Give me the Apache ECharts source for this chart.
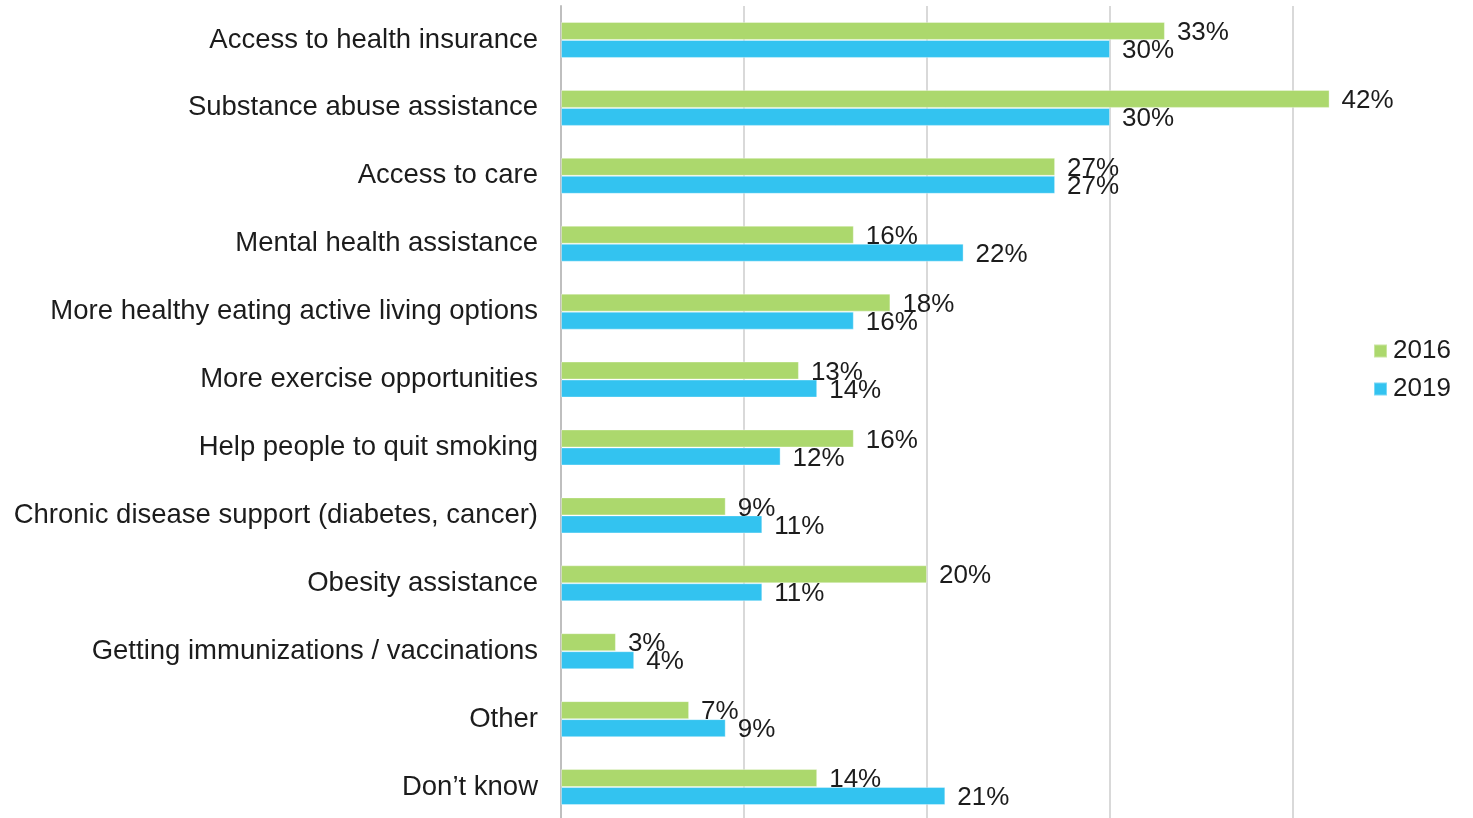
<!DOCTYPE html>
<html>
<head>
<meta charset="utf-8">
<script src="https://cdn.jsdelivr.net/npm/echarts@6/dist/echarts.min.js"></script>
<style>
  html, body { margin: 0; padding: 0; background: #ffffff; }
  #chart { width: 1473px; height: 818px; }
</style>
</head>
<body>
<div id="chart"></div>
<script>
// Survey answers, listed top to bottom
const categories = [
  'Access to health insurance',
  'Substance abuse assistance',
  'Access to care',
  'Mental health assistance',
  'More healthy eating active living options',
  'More exercise opportunities',
  'Help people to quit smoking',
  'Chronic disease support (diabetes, cancer)',
  'Obesity assistance',
  'Getting immunizations / vaccinations',
  'Other',
  'Don\u2019t know'
];

// Share of respondents (%) per year
const values2016 = [33, 42, 27, 16, 18, 13, 16, 9, 20, 3, 7, 14];
const values2019 = [30, 30, 27, 22, 16, 14, 12, 11, 11, 4, 9, 21];

const seriesNames = ['2016', '2019'];
const xTicks = [0, 10, 20, 30, 40, 50];

const FONT = '"Liberation Sans", Arial, sans-serif';
const TEXT = '#1c1c1c';

const chart = echarts.init(document.getElementById('chart'), null, { renderer: 'canvas' });

function barSeries(name, data, color) {
  return {
    name: name,
    type: 'bar',
    data: data,
    barWidth: 18,
    barGap: '0%',
    itemStyle: { color: color, borderColor: 'rgba(255,255,255,0.35)', borderWidth: 1 },
    label: {
      show: true,
      position: 'right',
      distance: 12,
      offset: [0, 2],
      formatter: '{c}%',
      color: TEXT,
      fontFamily: FONT,
      fontSize: 26
    }
  };
}

chart.setOption({
  animation: false,
  backgroundColor: '#ffffff',
  textStyle: { fontFamily: FONT },
  grid: {
    left: 561, top: 6, width: 915, height: 815,
    containLabel: false,
    outerBoundsMode: 'none'
  },
  xAxis: {
    type: 'value',
    min: xTicks[0],
    max: xTicks[xTicks.length - 1],
    interval: 10,
    axisLabel: { show: false },
    axisLine: { show: false },
    axisTick: { show: false },
    splitLine: { show: true, lineStyle: { color: '#d9d9d9', width: 2 } }
  },
  yAxis: {
    type: 'category',
    data: categories,
    inverse: true,
    axisTick: { show: false },
    axisLine: { show: true, lineStyle: { color: '#bfbfbf', width: 2 } },
    axisLabel: {
      color: TEXT,
      fontFamily: FONT,
      fontSize: 27.5,
      margin: 23
    }
  },
  legend: {
    orient: 'vertical',
    left: 1368,
    top: 333,
    itemWidth: 13,
    itemHeight: 13,
    itemGap: 12,
    icon: 'rect',
    data: seriesNames,
    textStyle: { color: TEXT, fontFamily: FONT, fontSize: 26, lineHeight: 26, padding: [0, 0, 0, 1] }
  },
  series: [
    barSeries(seriesNames[0], values2016, '#acd86d'),
    barSeries(seriesNames[1], values2019, '#33c3f0')
  ]
});
</script>
</body>
</html>
